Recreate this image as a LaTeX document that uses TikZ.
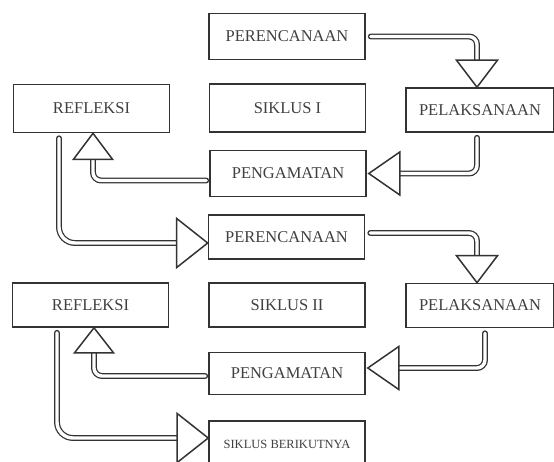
\documentclass[tikz,border=0pt]{standalone}
\usepackage{fontspec}
\setmainfont{Liberation Serif}
\usepackage{tikz}
\usetikzlibrary{calc}

\begin{document}
\begin{tikzpicture}[x=1pt, y=-1pt,
    kotak/.style={draw=black!80, line width=1.6pt, fill=white, text=black!75,
        minimum width=156pt, minimum height=46pt, inner sep=0pt,
        font=\fontsize{16.5}{18}\selectfont},
    poros/.style={draw=black!80, line width=1.25pt, double=white,
        double distance=3.4pt, rounded corners=8pt, line cap=round},
    kepala/.style={draw=black!80, line width=1.5pt, fill=white, line join=miter}]

    % 0. Bingkai gambar (ukuran sama dengan gambar asli)
    \clip (0,0) rectangle (554,461);

    % 1. Kotak-kotak siklus I
    \node[kotak] (ren1) at (287,36.5) {PERENCANAAN};
    \node[kotak, minimum height=48pt] (ref1) at (91.5,108.5) {REFLEKSI};
    \node[kotak, minimum height=48pt] (sik1) at (287.5,108) {SIKLUS I};
    \node[kotak, minimum width=148pt, minimum height=44pt] (lak1) at (480,110) {PELAKSANAAN};
    \node[kotak] (amat1) at (288,173.5) {PENGAMATAN};

    % 2. Kotak-kotak siklus II
    \node[kotak, minimum height=44pt] (ren2) at (286.5,237) {PERENCANAAN};
    \node[kotak, minimum height=44pt] (ref2) at (90.5,305) {REFLEKSI};
    \node[kotak, minimum height=44pt] (sik2) at (287,305) {SIKLUS II};
    \node[kotak, minimum width=148pt, minimum height=44pt] (lak2) at (480,305.5) {PELAKSANAAN};
    \node[kotak, minimum height=42pt] (amat2) at (287,373.5) {PENGAMATAN};
    \node[kotak, font=\fontsize{12.5}{14}\selectfont] (lanjut) at (287,444) {SIKLUS BERIKUTNYA};

    % 3. Batang panah (garis ganda), siklus I
    \draw[poros] ($(ren1.east)+(5,0)$) -| ($(lak1.north)+(-3,-27)$);
    \draw[poros] ($(lak1.south)+(-3,5)$) |- ($(amat1.east)+(33,0)$);
    \draw[poros] ($(amat1.west)+(-3,7)$) -| ($(ref1.south)+(1.5,26)$);
    \draw[poros, rounded corners=16pt] ($(ref1.south)+(-32.5,5)$) |- ($(ren2.west)+(-31,6)$);

    % Batang panah, siklus II
    \draw[poros] ($(ren2.east)+(5,-4)$) -| ($(lak2.north)+(-3,-27)$);
    \draw[poros] ($(lak2.south)+(5,5)$) |- ($(amat2.east)+(33,-5.5)$);
    \draw[poros] ($(amat2.west)+(-3,2.5)$) -| ($(ref2.south)+(3.5,25)$);
    \draw[poros, rounded corners=16pt] ($(ref2.south)+(-33.5,5)$) |- ($(lanjut.west)+(-31,-6)$);

    % 4. Kepala panah (segitiga kosong), digambar terakhir agar menutup ujung batang
    \draw[kepala] ($(lak1.north)+(-3,0)$) -- ++(-20.5,-27) -- ++(41,0) -- cycle;
    \draw[kepala] ($(amat1.east)+(2,0)$) -- ++(31,-21.5) -- ++(0,43) -- cycle;
    \draw[kepala] ($(ref1.south)+(1.5,0)$) -- ++(-19.5,26) -- ++(39,0) -- cycle;
    \draw[kepala] ($(ren2.west)+(0,6)$) -- ++(-31,-24.5) -- ++(0,49) -- cycle;

    \draw[kepala] ($(lak2.north)+(-3,0)$) -- ++(-20.5,-27) -- ++(41,0) -- cycle;
    \draw[kepala] ($(amat2.east)+(2,-5.5)$) -- ++(31,-21.5) -- ++(0,43) -- cycle;
    \draw[kepala] ($(ref2.south)+(3.5,0)$) -- ++(-19.5,25) -- ++(39,0) -- cycle;
    \draw[kepala] ($(lanjut.west)+(0,-6)$) -- ++(-31,-24.5) -- ++(0,49) -- cycle;

\end{tikzpicture}
\end{document}
